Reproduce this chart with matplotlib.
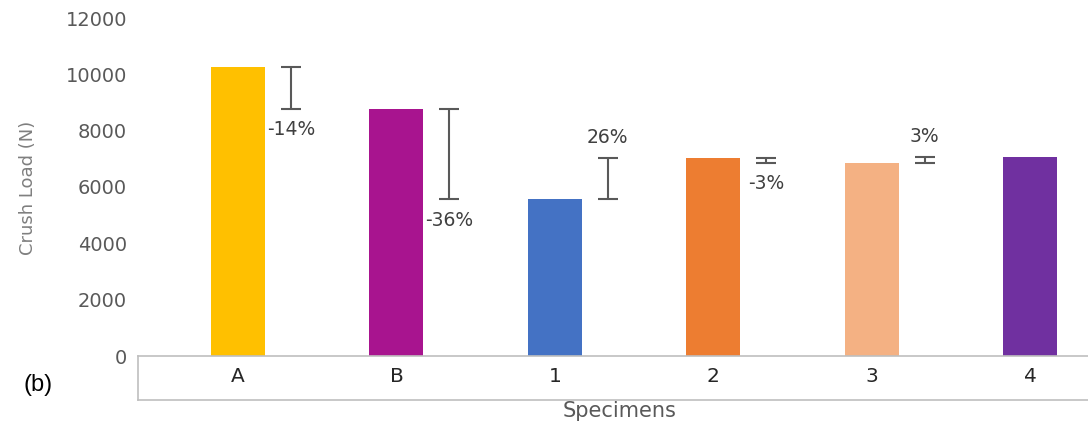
import matplotlib
matplotlib.use("Agg")
from matplotlib import pyplot as plt
from matplotlib.lines import Line2D

# Crush load per specimen
specimens = ['A', 'B', '1', '2', '3', '4']
crush_load = [10250, 8770, 5560, 7020, 6855, 7065]
bar_colors = ['#FFC000', '#A8148F', '#4472C4', '#ED7D31', '#F4B183', '#7030A0']
# change from each specimen to the next one
change_labels = ['-14%', '-36%', '26%', '-3%', '3%']

GREY = '#595959'


def main():
    fig = plt.figure(figsize=(10.88, 4.28), dpi=100)
    W, H = 1088, 428
    ax = fig.add_axes([138 / W, (428 - 356) / H, 1 - 138 / W, (356 - 18) / H])

    x = list(range(len(specimens)))
    ax.bar(x, crush_load, width=0.34, color=bar_colors)

    # error-bar style markers showing the step to the next specimen
    off = 0.335
    for i, label in enumerate(change_labels):
        y0, y1 = crush_load[i], crush_load[i + 1]
        lo, hi = min(y0, y1), max(y0, y1)
        ax.errorbar(i + off, y0, yerr=[[y0 - lo], [hi - y0]], fmt='none',
                    ecolor=GREY, elinewidth=1.5, capsize=7, capthick=1.5)
        if y1 < y0:
            ax.annotate(label, (i + off, lo), xytext=(0, -15), textcoords='offset points',
                        ha='center', va='center', fontsize=13.5, color='#404040')
        else:
            ax.annotate(label, (i + off, hi), xytext=(0, 15), textcoords='offset points',
                        ha='center', va='center', fontsize=13.5, color='#404040')

    ax.set_xlim(-100 / 158.4, (1088 - 238) / 158.4)
    ax.set_ylim(0, 12000)
    ax.set_yticks(range(0, 12001, 2000))
    ax.tick_params(axis='y', length=0, pad=8, labelsize=14, labelcolor=GREY)
    ax.set_xticks(x)
    ax.set_xticklabels(specimens)
    ax.tick_params(axis='x', length=0, pad=8, labelsize=14.5, labelcolor='#262626')

    for side in ['top', 'right', 'left']:
        ax.spines[side].set_visible(False)
    ax.spines['bottom'].set_color('#BFBFBF')
    ax.spines['bottom'].set_linewidth(1.2)

    # box around the category labels
    fig.add_artist(Line2D([138 / W, 138 / W], [(428 - 356) / H, (428 - 400) / H],
                          color='#BFBFBF', lw=1.2))
    fig.add_artist(Line2D([138 / W, 1.0], [(428 - 400) / H, (428 - 400) / H],
                          color='#BFBFBF', lw=1.2))

    fig.text(620 / W, (428 - 411) / H, 'Specimens', ha='center', va='center',
             fontsize=15, color=GREY)
    fig.text(28 / W, (428 - 188) / H, 'Crush Load (N)', rotation=90, ha='center', va='center',
             fontsize=13, color='#7F7F7F')
    fig.text(38 / W, (428 - 385) / H, '(b)', ha='center', va='center',
             fontsize=17, color='black', family=['Liberation Sans', 'DejaVu Sans'])

    fig.savefig('out.png', dpi=100)


if __name__ == '__main__':
    main()
